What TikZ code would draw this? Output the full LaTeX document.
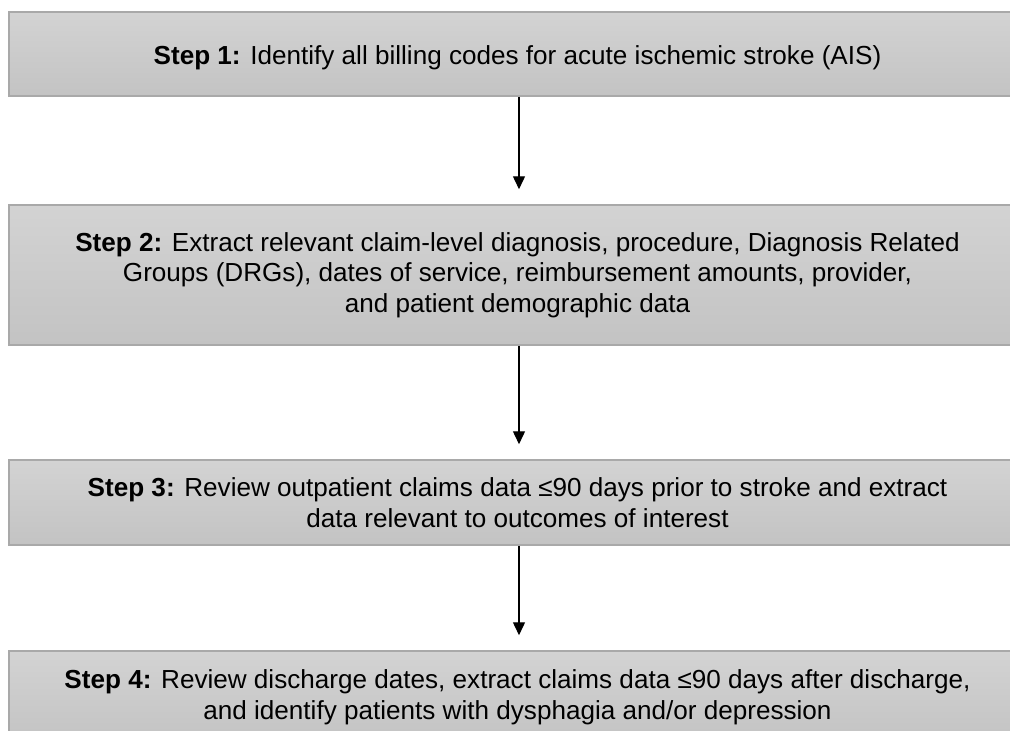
\documentclass[tikz,border=0pt]{standalone}
\usepackage{fontspec}
\setmainfont{Liberation Sans}
\usetikzlibrary{arrows.meta}
\definecolor{boxtop}{HTML}{D3D3D3}
\definecolor{boxbot}{HTML}{C3C3C3}
\definecolor{boxline}{HTML}{A9A9A9}
\tikzset{
  stepbox/.style={draw=boxline, line width=1.5pt, top color=boxtop, bottom color=boxbot,
    minimum width=1017pt, inner sep=0pt, align=center,
    font=\fontsize{26.1}{30.5}\selectfont},
  flow/.style={line width=1.4pt, -{Triangle[width=12pt,length=13pt]}, shorten >=15pt}
}
\begin{document}
\begin{tikzpicture}[x=1pt,y=-1pt]
\useasboundingbox (0,0) rectangle (1010,731);
\fill[white] (0,0) rectangle (1010,731);
\node[stepbox, minimum height=84pt, text height=22pt, text depth=0.5pt] (s1) at (517.5,54) {\textbf{Step 1:} Identify all billing codes for acute ischemic stroke (AIS)};
\node[stepbox, minimum height=140pt] (s2) at (517.5,275) {\textbf{Step 2:} Extract relevant claim-level diagnosis, procedure, Diagnosis Related\\Groups (DRGs), dates of service, reimbursement amounts, provider,\\and patient demographic data};
\node[stepbox, minimum height=85pt] (s3) at (517.5,502.5) {\textbf{Step 3:} Review outpatient claims data ≤90 days prior to stroke and extract\\data relevant to outcomes of interest};
\node[stepbox, minimum height=92pt] (s4) at (517.5,697) {\textbf{Step 4:} Review discharge dates, extract claims data ≤90 days after discharge,\\and identify patients with dysphagia and/or depression};
\draw[flow] (s1.south -| 519,0) -- (s2.north -| 519,0);
\draw[flow] (s2.south -| 519,0) -- (s3.north -| 519,0);
\draw[flow] (s3.south -| 519,0) -- (s4.north -| 519,0);
\end{tikzpicture}
\end{document}
